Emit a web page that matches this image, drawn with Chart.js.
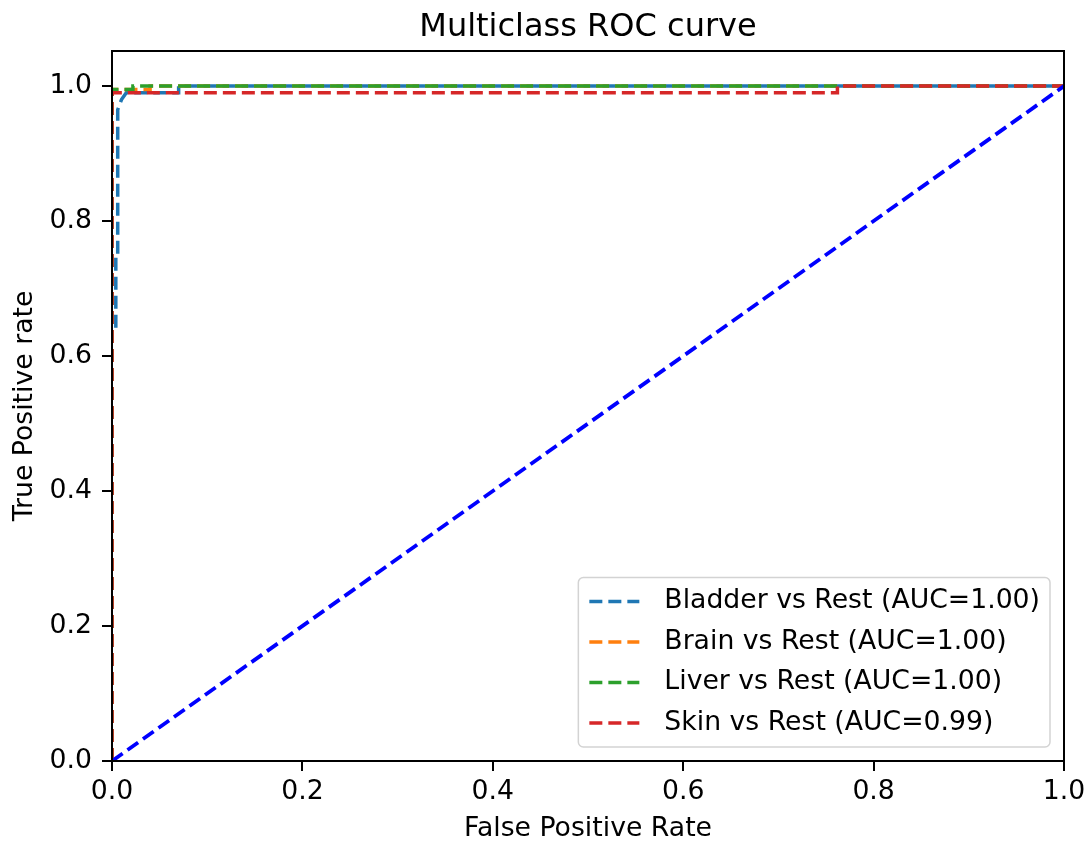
<!DOCTYPE html>
<html>
<head>
<meta charset="utf-8">
<title>Multiclass ROC curve</title>
<script src="https://cdn.jsdelivr.net/npm/chart.js@4.4.1/dist/chart.umd.min.js"></script>
<style>
  html, body { margin: 0; padding: 0; background: #ffffff; }
  #wrap { width: 1092px; height: 846px; }
</style>
</head>
<body>
<div id="wrap"><canvas id="rocChart" width="1092" height="846"></canvas></div>
<script>
// values
const classNames = ['Bladder', 'Brain', 'Liver', 'Skin'];
const aucValues = ['1.00', '1.00', '1.00', '0.99'];
const classColors = ['#1f77b4', '#ff7f0e', '#2ca02c', '#d62728'];

const fprBladder = [0, 0, 0.004, 0.004, 0.006, 0.006, 0.010, 0.015, 0.070, 0.070, 1];
const tprBladder = [0, 0.64, 0.64, 0.75, 0.75, 0.965, 0.980, 0.990, 0.990, 1, 1];
const fprBrain = [0, 0, 0.040, 0.040, 1];
const tprBrain = [0, 0.995, 0.995, 1, 1];
const fprLiver = [0, 0, 0.022, 0.022, 1];
const tprLiver = [0, 0.995, 0.995, 1, 1];
const fprSkin = [0, 0, 0.762, 0.762, 1];
const tprSkin = [0, 0.99, 0.99, 1, 1];
const fprChance = [0, 1];
const tprChance = [0, 1];

const xTicks = [0, 0.2, 0.4, 0.6, 0.8, 1.0];
const yTicks = [0, 0.2, 0.4, 0.6, 0.8, 1.0];

const FONT = '"DejaVu Sans", sans-serif';
const TEXT_SIZE = 26.7;

function toPoints(xs, ys) {
  return xs.map((x, i) => ({ x: x, y: ys[i] }));
}

const curves = [
  [fprBladder, tprBladder],
  [fprBrain, tprBrain],
  [fprLiver, tprLiver],
  [fprSkin, tprSkin]
];

const datasets = curves.map((c, i) => ({
  label: classNames[i] + ' vs Rest (AUC=' + aucValues[i] + ')',
  data: toPoints(c[0], c[1]),
  borderColor: classColors[i],
  borderWidth: 3.5,
  borderDash: [13, 6],
  showLine: true,
  pointRadius: 0,
  inLegend: true,
  order: 4 - i   // later curves sit on top, like matplotlib
}));
datasets.push({
  label: 'chance',
  data: toPoints(fprChance, tprChance),
  borderColor: '#0000ff',
  borderWidth: 3.8,
  borderDash: [13, 6],
  showLine: true,
  pointRadius: 0,
  inLegend: false,
  order: 0
});

// black box round the plot
const frame = {
  id: 'frame',
  afterDatasetsDraw(chart) {
    const { ctx, chartArea: a } = chart;
    ctx.save();
    ctx.strokeStyle = '#000';
    ctx.lineWidth = 2;
    ctx.strokeRect(a.left, a.top, a.right - a.left, a.bottom - a.top);
    ctx.restore();
  }
};

// matplotlib style legend, lower right inside the axes
const legendBox = {
  id: 'legendBox',
  afterDraw(chart) {
    const { ctx, chartArea } = chart;
    const items = chart.data.datasets.filter(d => d.inLegend);
    ctx.save();
    ctx.font = TEXT_SIZE + 'px ' + FONT;
    const textW = Math.max(...items.map(d => ctx.measureText(d.label).width));
    const rowH = 40.5;
    const w = 11 + 50 + 25 + textW + 10;
    const h = 48 + (items.length - 1) * rowH;
    const right = chartArea.right - 14;
    const bottom = chartArea.bottom - 14;
    const left = right - w;
    const top = bottom - h;

    ctx.beginPath();
    ctx.roundRect(left, top, w, h, 5);
    ctx.fillStyle = 'rgba(255,255,255,0.8)';
    ctx.fill();
    ctx.strokeStyle = '#d3d3d3';
    ctx.lineWidth = 1.5;
    ctx.stroke();

    items.forEach((d, i) => {
      const y = top + 24 + i * rowH;
      ctx.beginPath();
      ctx.setLineDash(d.borderDash);
      ctx.strokeStyle = d.borderColor;
      ctx.lineWidth = d.borderWidth;
      ctx.moveTo(left + 11, y);
      ctx.lineTo(left + 61, y);
      ctx.stroke();
      ctx.setLineDash([]);
      ctx.fillStyle = '#000';
      ctx.textBaseline = 'middle';
      ctx.textAlign = 'left';
      ctx.fillText(d.label, left + 86, y);
    });
    ctx.restore();
  }
};

const tickGrid = {
  display: true,
  drawOnChartArea: false,
  drawTicks: true,
  tickLength: 10,
  tickColor: '#000',
  tickWidth: 2,
  lineWidth: 0
};

const ctx = document.getElementById('rocChart').getContext('2d');
const chart = new Chart(ctx, {
  type: 'scatter',
  data: { datasets: datasets },
  plugins: [frame, legendBox],
  options: {
    responsive: false,
    animation: false,
    layout: { padding: { left: 0, right: 28, top: 0, bottom: 0 } },
    plugins: {
      legend: { display: false },
      tooltip: { enabled: false },
      title: {
        display: true,
        text: 'Multiclass ROC curve',
        fullSize: false,
        color: '#000',
        font: { family: FONT, size: 32, weight: 'normal' },
        padding: { top: 8, bottom: 4.6 }
      }
    },
    scales: {
      x: {
        type: 'linear',
        min: 0,
        max: 1,
        border: { display: false },
        grid: tickGrid,
        afterBuildTicks: s => { s.ticks = xTicks.map(v => ({ value: v })); },
        afterFit: s => { s.height = 85; },
        ticks: {
          padding: 5,
          color: '#000',
          font: { family: FONT, size: TEXT_SIZE },
          maxRotation: 0,
          callback: v => v.toFixed(1)
        },
        title: {
          display: true,
          text: 'False Positive Rate',
          color: '#000',
          font: { family: FONT, size: TEXT_SIZE },
          padding: { top: 2, bottom: 1 }
        }
      },
      y: {
        type: 'linear',
        min: 0,
        max: 1.052,
        border: { display: false },
        grid: tickGrid,
        afterBuildTicks: s => { s.ticks = yTicks.map(v => ({ value: v })); },
        afterFit: s => { s.width = 112; },
        ticks: {
          padding: 10,
          color: '#000',
          font: { family: FONT, size: TEXT_SIZE },
          callback: v => v.toFixed(1)
        },
        title: {
          display: true,
          text: 'True Positive rate',
          color: '#000',
          font: { family: FONT, size: TEXT_SIZE },
          padding: { top: 9, bottom: 2 }
        }
      }
    }
  }
});
</script>
</body>
</html>
